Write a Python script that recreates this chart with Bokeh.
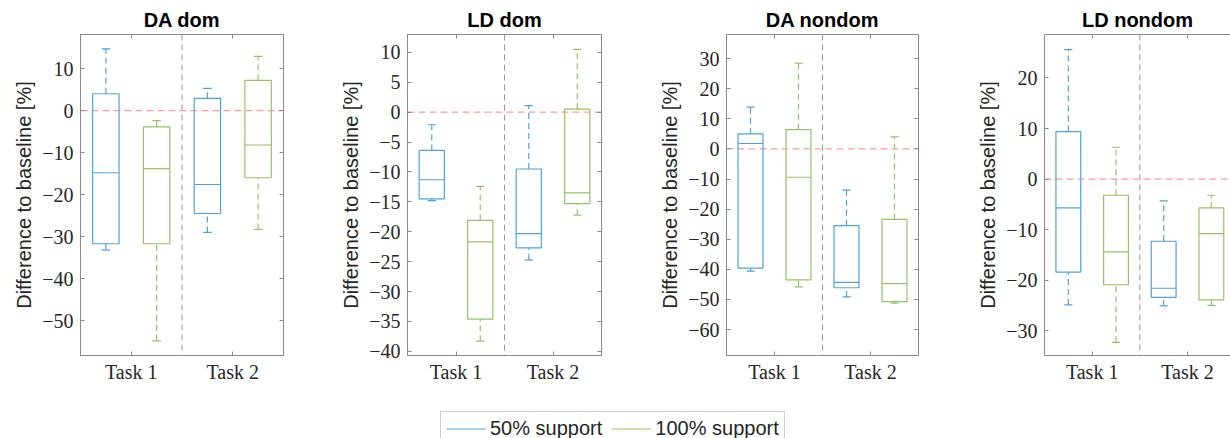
from bokeh.plotting import figure
from bokeh.models import Range1d, FixedTicker, LinearAxis, Span, Legend, LegendItem
from bokeh.layouts import row, column
from bokeh.embed import file_html
from bokeh.resources import INLINE

# ---------------- data ----------------
panel_titles = ["DA dom", "LD dom", "DA nondom", "LD nondom"]
task_labels = ["Task 1", "Task 2"]
series_names = ["50% support", "100% support"]

# each list: one [Task 1, Task 2] pair per panel (DA dom, LD dom, DA nondom, LD nondom)
s50_whisker_lo = [[-33.2, -29.0], [-14.8, -24.7], [-40.6, -49.1], [-24.9, -25.1]]
s50_q1 = [[-31.7, -24.5], [-14.5, -22.7], [-39.6, -46.1], [-18.4, -23.4]]
s50_median = [[-14.8, -17.6], [-11.3, -20.3], [1.8, -44.3], [-5.7, -21.6]]
s50_q3 = [[4.0, 2.9], [-6.4, -9.5], [5.0, -25.5], [9.4, -12.3]]
s50_whisker_hi = [[14.7, 5.3], [-2.1, 1.1], [13.9, -13.7], [25.6, -4.3]]

s100_whisker_lo = [[-54.8, -28.3], [-38.3, -17.2], [-45.8, -51.2], [-32.3, -25.0]]
s100_q1 = [[-31.7, -16.0], [-34.6, -15.3], [-43.5, -50.7], [-20.9, -23.9]]
s100_median = [[-13.8, -8.2], [-21.7, -13.5], [-9.4, -44.7], [-14.4, -10.8]]
s100_q3 = [[-3.9, 7.2], [-18.1, 0.5], [6.4, -23.4], [-3.2, -5.7]]
s100_whisker_hi = [[-2.4, 12.9], [-12.4, 10.5], [28.5, 4.0], [6.3, -3.2]]

y_limits = [(-58.3, 18.1), (-40.7, 13.0), (-68.6, 38.0), (-34.9, 28.6)]
y_ticks = [[-50, -40, -30, -20, -10, 0, 10],
           [-40, -35, -30, -25, -20, -15, -10, -5, 0, 5, 10],
           [-60, -50, -40, -30, -20, -10, 0, 10, 20, 30],
           [-30, -20, -10, 0, 10, 20]]
task_positions = [1, 2]

# ---------------- style ----------------
colors = ["#4DA3E0", "#93C464"]
offsets = [-0.25, 0.25]
box_w = 0.26
cap_w = 0.085
axis_gray = "#8a8a8a"
text_dark = "#262626"

series_stats = [
    (s50_whisker_lo, s50_q1, s50_median, s50_q3, s50_whisker_hi),
    (s100_whisker_lo, s100_q1, s100_median, s100_q3, s100_whisker_hi),
]

# figure geometry: (width, min_border_left, min_border_right, x_end)
geoms = [(300, 80, 17, 2.5), (320, 107, 19, 2.5), (320, 106, 22, 2.5), (290, 104, 0, 2.4507)]

figs = []
for i, title in enumerate(panel_titles):
    w, bl, br, xend = geoms[i]
    p = figure(width=w, height=405, output_backend="svg", toolbar_location=None,
               x_range=Range1d(0.5, xend), y_range=Range1d(*y_limits[i]),
               min_border_left=bl, min_border_right=br, min_border_top=34, min_border_bottom=50,
               x_axis_location=None, y_axis_location=None)
    p.background_fill_color = "white"
    p.border_fill_color = "white"
    p.outline_line_color = axis_gray if i < 3 else None
    p.xgrid.visible = False
    p.ygrid.visible = False

    p.title.text = title
    p.title.text_font = "Liberation Sans"
    p.title.text_font_size = "20px"
    p.title.text_font_style = "bold"
    p.title.text_color = "black"
    p.title.align = "center"
    p.title.standoff = 8

    overrides_y = {v: (str(v).replace("-", "\u2212")) for v in y_ticks[i]}
    yl = LinearAxis(ticker=FixedTicker(ticks=y_ticks[i]), major_label_overrides=overrides_y,
                    axis_label="Difference to baseline [%]")
    yl.axis_label_text_font = "Liberation Sans"
    yl.axis_label_text_font_size = "20px"
    yl.axis_label_text_font_style = "normal"
    yl.axis_label_text_color = text_dark
    yl.axis_label_standoff = 4
    yl.major_label_text_font = "Liberation Serif"
    yl.major_label_text_font_size = "20px"
    yl.major_label_text_color = text_dark
    yl.major_label_standoff = 7
    p.add_layout(yl, "left")

    xb = LinearAxis(ticker=FixedTicker(ticks=task_positions),
                    major_label_overrides={t: lab for t, lab in zip(task_positions, task_labels)})
    xb.major_label_text_font = "Liberation Serif"
    xb.major_label_text_font_size = "20px"
    xb.major_label_text_color = text_dark
    xb.major_label_standoff = 5
    p.add_layout(xb, "below")

    xa = LinearAxis(ticker=FixedTicker(ticks=task_positions))
    xa.major_label_text_font_size = "0px"
    xa.major_label_text_color = None
    xa.major_label_standoff = 0
    p.add_layout(xa, "above")
    axes = [yl, xb, xa]
    if i < 3:
        yr = LinearAxis(ticker=FixedTicker(ticks=y_ticks[i]))
        yr.major_label_text_font_size = "0px"
        yr.major_label_text_color = None
        yr.major_label_standoff = 0
        p.add_layout(yr, "right")
        axes.append(yr)
    for ax in axes:
        ax.axis_line_color = axis_gray
        ax.major_tick_line_color = axis_gray
        ax.major_tick_in = 4
        ax.major_tick_out = 0
        ax.minor_tick_line_color = None

    p.add_layout(Span(location=1.5, dimension="height", line_color="#999999",
                      line_dash="6 4", line_width=1, level="underlay"))
    p.add_layout(Span(location=0, dimension="width", line_color="#FF9999",
                      line_dash="7 4", line_width=1.2, level="underlay"))

    for s in range(2):
        lo, q1, med, q3, hi = (arr[i] for arr in series_stats[s])
        c = colors[s]
        xs = [t + offsets[s] for t in task_positions]
        p.segment(x0=xs, y0=q3, x1=xs, y1=hi, line_color=c, line_width=1.2, line_dash="6 4")
        p.segment(x0=xs, y0=lo, x1=xs, y1=q1, line_color=c, line_width=1.2, line_dash="6 4")
        p.segment(x0=[x - cap_w / 2 for x in xs], y0=hi, x1=[x + cap_w / 2 for x in xs], y1=hi,
                  line_color=c, line_width=1.2)
        p.segment(x0=[x - cap_w / 2 for x in xs], y0=lo, x1=[x + cap_w / 2 for x in xs], y1=lo,
                  line_color=c, line_width=1.2)
        p.quad(left=[x - box_w / 2 for x in xs], right=[x + box_w / 2 for x in xs],
               bottom=q1, top=q3, fill_color=None, line_color=c, line_width=1.2)
        p.segment(x0=[x - box_w / 2 for x in xs], y0=med, x1=[x + box_w / 2 for x in xs], y1=med,
                  line_color=c, line_width=1.2)
    figs.append(p)

# ---------------- legend strip ----------------
lg = figure(width=1230, height=33, output_backend="svg", toolbar_location=None,
            x_range=Range1d(0, 1), y_range=Range1d(0, 1),
            min_border_left=0, min_border_right=0, min_border_top=0, min_border_bottom=0,
            x_axis_type=None, y_axis_type=None)
lg.outline_line_color = None
lg.xgrid.visible = False
lg.ygrid.visible = False
items = []
nan = float("nan")
for s in range(2):
    r = lg.line(x=[nan, nan], y=[nan, nan], line_color=colors[s], line_width=1.2)
    items.append(LegendItem(label=series_names[s], renderers=[r]))
leg = Legend(items=items, orientation="horizontal", location=(440, -8),
             label_text_font="Liberation Sans", label_text_font_size="20px", label_text_color=text_dark,
             glyph_width=40, glyph_height=23, label_height=23, label_standoff=4,
             spacing=9, padding=5, margin=0,
             border_line_color="#a0a0a0", border_line_width=1,
             background_fill_color="white", background_fill_alpha=1)
lg.add_layout(leg, "center")

layout = column(row(*figs), lg)
open("out.html", "w").write(file_html(layout, INLINE))
